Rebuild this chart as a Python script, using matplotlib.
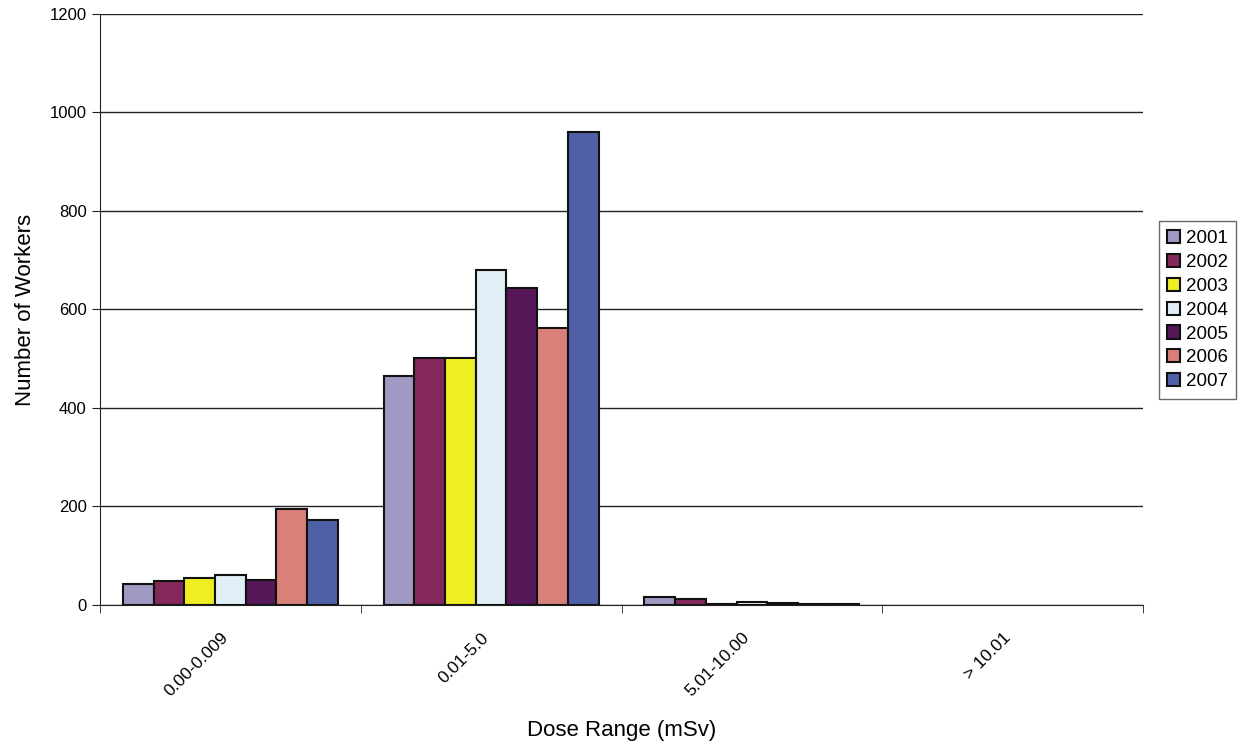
import numpy as np
import matplotlib
matplotlib.use("Agg")
import matplotlib.pyplot as plt
import matplotlib.transforms as mtransforms

# Dose ranges and worker counts per year
dose_ranges = ["0.00-0.009", "0.01-5.0", "5.01-10.00", "> 10.01"]
years = ["2001", "2002", "2003", "2004", "2005", "2006", "2007"]
counts_2001 = [43, 465, 16, 0]
counts_2002 = [49, 501, 12, 0]
counts_2003 = [55, 502, 2, 0]
counts_2004 = [61, 680, 7, 0]
counts_2005 = [51, 644, 5, 0]
counts_2006 = [195, 562, 1, 0]
counts_2007 = [173, 960, 2, 0]
all_counts = [counts_2001, counts_2002, counts_2003, counts_2004,
              counts_2005, counts_2006, counts_2007]
colors = ["#A099C4", "#84285C", "#EEEE22", "#E0EEF5", "#561858", "#D9807A", "#5060A6"]

plt.rcParams["font.family"] = ["Liberation Sans", "DejaVu Sans"]

fig = plt.figure(figsize=(12.47, 7.49), dpi=100)
ax = fig.add_axes([0.0802, 0.1923, 0.8364, 0.789])

x = np.arange(len(dose_ranges))
bar_w = 0.1177
n = len(years)
for i, (yr, vals, c) in enumerate(zip(years, all_counts, colors)):
    offs = (i - (n - 1) / 2) * bar_w
    bars = ax.bar(x + offs, vals, width=bar_w, color=c, edgecolor="#111111",
                  linewidth=1.5, label=yr, zorder=3)
    # empty categories show no bar at all
    for b, v in zip(bars, vals):
        if v == 0:
            b.set_visible(False)

ax.set_xlim(-0.5, len(dose_ranges) - 0.5)
ax.set_ylim(0, 1200)
ax.set_yticks(range(0, 1201, 200))
ax.yaxis.grid(True, color="#222222", linewidth=1.0, zorder=0)

ax.set_xticks(x)
ax.set_xticklabels(dose_ranges, rotation=45, ha="right", rotation_mode="anchor", fontsize=12.5)
ax.tick_params(axis="x", length=0, pad=18)
shift = mtransforms.ScaledTranslation(-10 / 100, 0, fig.dpi_scale_trans)
for lbl in ax.get_xticklabels():
    lbl.set_transform(lbl.get_transform() + shift)
ax.set_xticks(np.arange(len(dose_ranges) + 1) - 0.5, minor=True)
ax.tick_params(axis="x", which="minor", length=6, direction="out", color="#222222")
ax.tick_params(axis="y", length=6, direction="out", labelsize=12, color="#222222")

for s in ["top", "right"]:
    ax.spines[s].set_visible(False)
ax.spines["left"].set_color("#222222")
ax.spines["bottom"].set_color("#222222")

ax.set_xlabel("Dose Range (mSv)", fontsize=16)
ax.xaxis.set_label_coords(0.5, -0.195)
ax.set_ylabel("Number of Workers", fontsize=16, labelpad=10)

leg = ax.legend(loc="center left", bbox_to_anchor=(1.006, 0.499), fontsize=13.5,
                frameon=True, fancybox=False, edgecolor="#444444",
                handlelength=0.7, handleheight=0.7, handletextpad=0.3,
                labelspacing=0.36, borderpad=0.45)

fig.savefig("out.png", dpi=100)
